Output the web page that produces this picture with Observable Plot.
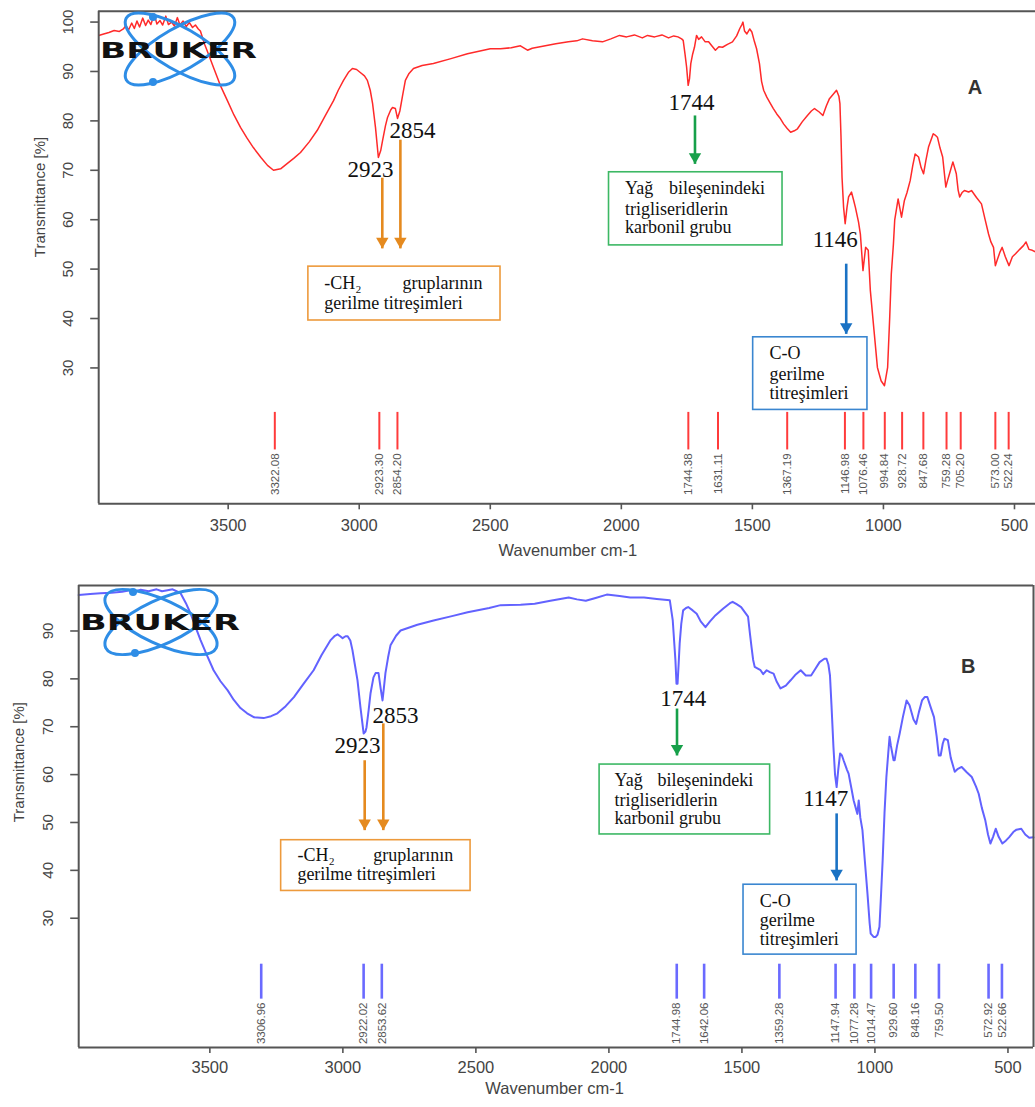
<!DOCTYPE html>
<html><head><meta charset="utf-8">
<script src="https://cdn.jsdelivr.net/npm/d3@7"></script>
<script src="https://cdn.jsdelivr.net/npm/@observablehq/plot@0.6"></script>
<style>
html,body{margin:0;padding:0;background:#fff;overflow:hidden;width:1035px;height:1107px;}
#wrap{position:relative;width:1035px;height:1107px;}
.panel{position:absolute;left:0;}
#logo{position:absolute;left:0;top:0;pointer-events:none;}
</style></head><body><div id="wrap"></div>
<script>
// ---------- axis ticks ----------
const xTicks = [3500, 3000, 2500, 2000, 1500, 1000, 500];
const yTicksA = [30, 40, 50, 60, 70, 80, 90, 100];
const yTicksB = [30, 40, 50, 60, 70, 80, 90];

// ---------- spectrum A (red) ----------
const waveA = [3994,3975,3955,3935,3915,3900,3890,3880,3868,3858,3848,3838,3826,3815,3805,3795,3782,3772,3760,3750,3738,3728,3716,3705,3694,3684,3672,3660,3648,3636,3625,3614,3606,3590,3575,3556,3530,3503,3478,3453,3428,3404,3375,3350,3327,3300,3274,3250,3224,3190,3160,3130,3098,3080,3060,3040,3026,3010,2996,2980,2969,2958,2949,2938,2927,2918,2911,2900,2892,2880,2873,2862,2854,2845,2835,2824,2810,2793,2760,2717,2650,2587,2500,2461,2420,2385,2358,2340,2300,2250,2202,2170,2148,2110,2072,2040,2007,1980,1950,1920,1900,1873,1845,1820,1800,1784,1770,1764,1757,1751,1745,1740,1735,1728,1721,1713,1705,1694,1680,1667,1655,1641,1628,1614,1595,1576,1560,1548,1540,1536,1530,1521,1510,1502,1492,1484,1473,1465,1457,1445,1431,1420,1407,1395,1381,1368,1354,1340,1328,1310,1290,1275,1263,1245,1231,1218,1206,1190,1179,1170,1166,1162,1158,1152,1146,1139,1133,1122,1114,1107,1095,1088,1078,1068,1058,1050,1036,1023,1009,996,984,976,970,962,957,944,931,920,910,898,888,879,866,856,847,838,828,810,800,794,784,774,762,755,748,735,722,715,709,700,691,675,664,645,626,612,599,590,580,573,565,555,547,535,521,508,496,480,465,456,445,432,420,400];
const transA = [97.3,97.6,97.9,98.3,98.1,98.6,99.3,98.4,99.8,98.7,100.2,99.0,100.8,99.3,100.4,99.5,101.6,99.6,100.3,99.4,101.2,99.5,100.0,99.2,100.9,99.4,100.2,99.1,99.9,98.9,99.4,98.6,98.2,95.5,93.5,90.8,87.2,84.1,81.2,78.7,76.5,74.6,72.6,71.0,70.0,70.3,71.4,72.4,73.6,75.8,78.1,81.0,84.1,86.2,88.2,89.9,90.6,90.4,89.8,89.1,88.2,86.2,83.5,78.7,72.6,74.0,76.0,79.0,80.7,82.2,82.7,82.5,80.5,82.0,85.0,88.2,89.6,90.6,91.2,91.6,92.6,93.6,94.6,94.6,94.8,95.2,94.3,94.7,95.1,95.6,96.0,96.2,96.6,96.2,96.0,96.6,97.3,97.0,97.4,96.8,97.3,97.0,97.4,96.8,97.2,97.0,96.6,96.3,93.5,90.9,87.2,88.5,91.6,93.5,94.9,97.3,96.5,97.0,96.0,96.0,95.2,94.3,95.0,94.9,95.5,96.0,97.2,98.7,99.5,100.0,98.2,97.6,98.6,98.0,96.0,94.6,91.6,88.0,86.2,84.8,83.5,82.5,81.4,80.6,79.4,78.5,77.7,78.0,78.4,79.8,81.1,82.0,82.5,81.8,81.1,83.0,84.5,85.5,86.2,85.0,83.5,77.0,68.6,62.5,59.2,62.5,64.6,65.6,64.0,62.5,59.5,57.1,49.7,54.4,53.8,45.7,37.6,30.1,27.4,26.4,30.1,40.3,49.0,55.0,59.9,64.2,60.5,63.9,65.5,67.9,71.0,73.3,72.7,70.5,69.3,72.0,74.7,77.4,77.0,76.7,74.5,72.7,66.6,68.0,69.3,71.7,69.3,66.0,64.6,65.5,65.9,65.6,65.9,64.5,63.2,60.0,57.1,55.5,54.4,50.7,52.0,53.5,54.4,52.5,50.7,52.5,53.1,54.0,54.8,55.5,54.0,53.8,53.5,53.0];

// ---------- spectrum B (blue) ----------
const waveB = [3993,3950,3911,3870,3830,3800,3787,3760,3730,3700,3680,3659,3640,3625,3610,3590,3573,3555,3535,3510,3486,3460,3433,3410,3385,3360,3335,3298,3270,3246,3215,3184,3150,3110,3080,3046,3030,3020,3010,3001,2990,2982,2972,2964,2955,2945,2934,2922,2915,2911,2903,2896,2885,2877,2866,2858,2851,2846,2840,2830,2821,2800,2783,2720,2659,2590,2531,2450,2407,2332,2279,2220,2151,2120,2087,2050,2008,1960,1920,1868,1820,1771,1760,1750,1746,1742,1738,1734,1728,1721,1710,1702,1685,1670,1655,1637,1620,1599,1570,1545,1535,1520,1503,1490,1477,1470,1464,1458,1452,1430,1420,1407,1395,1381,1370,1355,1335,1317,1300,1279,1260,1240,1225,1208,1190,1182,1175,1169,1163,1156,1150,1144,1138,1131,1124,1118,1105,1099,1088,1080,1072,1066,1061,1055,1047,1038,1028,1020,1016,1005,997,990,983,977,971,964,957,950,945,940,930,926,917,907,895,881,870,855,845,835,823,813,803,790,778,768,760,753,745,739,726,715,700,688,674,655,636,620,610,598,585,575,566,556,546,535,521,508,496,480,468,450,435,420,404];
const transB = [97.5,97.7,97.9,98.0,98.2,98.5,98.1,98.6,98.3,98.7,98.3,98.5,98.7,98.3,97.9,95.8,93.7,91.0,88.1,84.8,81.8,79.5,77.6,75.6,73.9,72.8,72.0,71.8,72.2,72.8,74.3,76.2,78.8,81.8,85.0,88.1,89.0,89.3,88.9,88.5,88.9,88.9,88.0,86.0,83.0,79.7,74.1,68.6,69.0,69.9,73.5,77.0,80.3,81.2,81.2,78.0,75.5,78.0,81.2,84.5,87.0,89.0,90.1,91.3,92.2,93.1,93.9,94.8,95.4,95.5,95.7,96.3,97.0,96.6,96.3,96.9,97.6,97.3,97.0,97.0,96.7,96.4,92.2,83.9,79.0,79.0,83.0,87.4,91.5,94.3,94.8,95.0,94.3,93.6,92.0,90.8,92.0,93.3,94.7,95.8,96.1,95.6,95.0,94.0,93.0,89.5,86.7,84.0,82.5,81.8,81.0,81.8,81.4,81.1,79.5,78.0,78.6,79.7,80.8,81.8,80.7,80.7,82.0,83.5,84.2,84.2,83.0,80.7,74.1,65.8,60.0,57.4,61.0,64.4,64.0,63.0,61.0,60.2,57.0,54.6,53.0,51.8,54.6,51.0,48.4,42.0,35.1,29.0,26.8,26.1,26.1,26.6,28.2,35.0,42.1,52.0,59.5,64.5,67.9,66.0,63.0,63.0,66.0,68.6,72.0,75.5,74.5,71.5,70.6,73.0,75.5,76.2,76.2,74.0,72.0,68.0,64.0,64.0,66.5,67.5,67.2,63.5,60.6,61.2,61.6,60.5,59.5,57.5,56.0,53.0,50.4,47.5,45.6,47.0,48.7,47.0,45.6,46.2,46.9,48.0,48.5,48.7,47.5,46.8,46.9];

// ---------- peak picks ----------
const peaksA = [3322.08, 2923.30, 2854.20, 1744.38, 1631.11, 1367.19, 1146.98, 1076.46, 994.84, 928.72, 847.68, 759.28, 705.20, 573.00, 522.24];
const peakLabelsA = ["3322.08","2923.30","2854.20","1744.38","1631.11","1367.19","1146.98","1076.46","994.84","928.72","847.68","759.28","705.20","573.00","522.24"];
const peaksB = [3306.96, 2922.02, 2853.62, 1744.98, 1642.06, 1359.28, 1147.94, 1077.28, 1014.47, 929.60, 848.16, 759.50, 572.92, 522.66];
const peakLabelsB = ["3306.96","2922.02","2853.62","1744.98","1642.06","1359.28","1147.94","1077.28","1014.47","929.60","848.16","759.50","572.92","522.66"];

// ---------- annotations (data units: wavenumber, %T) ----------
const numbersA = [{w:2957,t:70.2,s:"2923"},{w:2797,t:78.1,s:"2854"},{w:1732,t:83.6,s:"1744"},{w:1184,t:56.0,s:"1146"}];
const numbersB = [{w:2802,t:72.4,s:"2853"},{w:2945,t:66.1,s:"2923"},{w:1721,t:75.9,s:"1744"},{w:1185,t:55.0,s:"1147"}];
const arrowsA = [{w:2912,t1:68.5,t2:54.2,c:"#e58a1f"},{w:2843,t1:76.2,t2:54.2,c:"#e58a1f"},{w:1719,t1:81.1,t2:71.3,c:"#17a04a"},{w:1142,t1:51.1,t2:36.9,c:"#1a72c4"}];
const arrowsB = [{w:2918,t1:63.0,t2:48.4,c:"#e58a1f"},{w:2848,t1:70.7,t2:48.4,c:"#e58a1f"},{w:1744,t1:73.8,t2:64.0,c:"#17a04a"},{w:1144,t1:51.9,t2:37.9,c:"#1a72c4"}];
const boxesA = [{w1:3194,w2:2461,t1:50.5,t2:39.6,c:"#ed9a3c"},{w1:2047,w2:1385,t1:69.6,t2:54.8,c:"#3cb864"},{w1:1497,w2:1061,t1:36.2,t2:21.5,c:"#3a86d0"}];
const boxesB = [{w1:3232,w2:2520,t1:46.3,t2:35.7,c:"#ed9a3c"},{w1:2035,w2:1394,t1:62.1,t2:47.5,c:"#3cb864"},{w1:1494,w2:1069,t1:37.0,t2:22.4,c:"#3a86d0"}];
const boxTextA = [
  {w:3133,t:47.1,s:"-CH\u2082",a:"start"},{w:2530,t:47.1,s:"gruplarının",a:"end"},{w:3133,t:43.0,s:"gerilme titreşimleri",a:"start"},
  {w:1986,t:66.4,s:"Yağ",a:"start"},{w:1452,t:66.4,s:"bileşenindeki",a:"end"},{w:1986,t:62.2,s:"trigliseridlerin",a:"start"},{w:1986,t:58.5,s:"karbonil grubu",a:"start"},
  {w:1435,t:33.0,s:"C-O",a:"start"},{w:1435,t:28.8,s:"gerilme",a:"start"},{w:1435,t:24.9,s:"titreşimleri",a:"start"}];
const boxTextB = [
  {w:3171,t:43.1,s:"-CH\u2082",a:"start"},{w:2585,t:43.1,s:"gruplarının",a:"end"},{w:3171,t:39.2,s:"gerilme titreşimleri",a:"start"},
  {w:1979,t:58.8,s:"Yağ",a:"start"},{w:1457,t:58.8,s:"bileşenindeki",a:"end"},{w:1979,t:54.6,s:"trigliseridlerin",a:"start"},{w:1979,t:50.8,s:"karbonil grubu",a:"start"},
  {w:1433,t:33.6,s:"C-O",a:"start"},{w:1433,t:29.6,s:"gerilme",a:"start"},{w:1433,t:25.6,s:"titreşimleri",a:"start"}];
const letterA = [{w:651,t:86.8,s:"A"}];
const letterB = [{w:649,t:82.6,s:"B"}];

const SERIF = "'Liberation Serif','Times New Roman',serif";
const SANS = "'Liberation Sans',Arial,sans-serif";

function makePanel(o) {
  const data = o.wave.map((w, i) => ({w, t: o.trans[i]}));
  const x0 = o.xDomain[0], x1 = o.xDomain[1];
  const y0 = o.yDomain[0], y1 = o.yDomain[1];
  const marks = [
    Plot.rect(o.boxes, {x1: "w1", x2: "w2", y1: "t1", y2: "t2", fill: "white", stroke: "c", strokeWidth: 1.6}),
    Plot.line(data, {x: "w", y: "t", stroke: o.color, strokeWidth: o.lw}),
    Plot.ruleX(o.peaks, {x: d => d, y1: o.peakY[0], y2: o.peakY[1], stroke: o.peakColor, strokeWidth: o.pw}),
    Plot.text(o.peaks, {x: d => d, y: o.peakY[2], text: (d, i) => o.peakLabels[i], rotate: -90, textAnchor: "end", fontSize: 11.5, fill: "#555"}),
    // frame
    Plot.ruleY([y0, y1], {y: d => d, stroke: "#555", strokeWidth: 2}),
    Plot.ruleX(o.rightEdge ? [x0, x1] : [x0], {x: d => d, stroke: "#555", strokeWidth: 2}),
    // axes
    Plot.axisX({ticks: xTicks, tickSize: 6, tickFormat: () => "", label: null, stroke: "#555", strokeWidth: 1.6}),
    Plot.axisY({ticks: o.yTicks, tickSize: 8, tickFormat: () => "", label: null, stroke: "#555", strokeWidth: 1.6}),
    Plot.text(xTicks, {x: d => d, frameAnchor: "bottom", dy: o.xLabDy, text: d => String(d), fontSize: 16.5, fill: "#444"}),
    Plot.text(o.yTicks, {x: x0, y: d => d, dx: -31, text: d => String(d), rotate: -90, fontSize: 15, fill: "#444"}),
    Plot.text(["Wavenumber cm-1"], {x: 2204, frameAnchor: "bottom", dy: o.xTitleDy, text: d => d, fontSize: 16.5, fill: "#444"}),
    Plot.text(["Transmittance [%]"], {x: x0, y: o.yTitleT, dx: o.yTitleDx, text: d => d, rotate: -90, fontSize: 15, fill: "#444"}),
    // annotations
    Plot.link(o.arrows, {x1: "w", x2: "w", y1: "t1", y2: "t2", stroke: "c", strokeWidth: 2.6}),
    Plot.dot(o.arrows, {x: "w", y: "t2", symbol: "triangle", rotate: 180, r: 4.6, fill: "c", stroke: "none", dy: -7}),
    Plot.text(o.numbers, {x: "w", y: "t", text: "s", fontSize: 23, fontFamily: SERIF, fill: "#111"}),
    Plot.text(o.boxText.filter(d => d.a === "start"), {x: "w", y: "t", text: "s", textAnchor: "start", fontSize: 18, fontFamily: SERIF, fill: "#111"}),
    Plot.text(o.boxText.filter(d => d.a === "end"), {x: "w", y: "t", text: "s", textAnchor: "end", fontSize: 18, fontFamily: SERIF, fill: "#111"}),
    Plot.text(o.letter, {x: "w", y: "t", text: "s", fontSize: 20, fontWeight: "bold", fill: "#333"})
  ];
  return Plot.plot({
    width: 1035, height: o.height,
    marginLeft: o.ml, marginRight: o.mr, marginTop: o.mt, marginBottom: o.mb,
    style: {fontFamily: SANS, background: "transparent", overflow: "visible"},
    x: {domain: o.xDomain, range: o.xRange},
    y: {domain: o.yDomain},
    color: {type: "identity"},
    marks
  });
}

const panelA = makePanel({
  wave: waveA, trans: transA, color: "#ff2a2a", lw: 1.5, peakColor: "#ff3b3b", pw: 2,
  peaks: peaksA, peakLabels: peakLabelsA, peakY: [21.0, 13.4, 12.7],
  xDomain: [3994, 400], xRange: [98.2, 1040.2], yDomain: [2.5, 102.2], yTicks: yTicksA,
  height: 560, ml: 98.2, mr: 0, mt: 10.7, mb: 56.7,
  xLabDy: 26.7, xTitleDy: 52, yTitleT: 64.6, yTitleDx: -58.2, rightEdge: false,
  boxes: boxesA, arrows: arrowsA, numbers: numbersA, boxText: boxTextA, letter: letterA
});
const panelB = makePanel({
  wave: waveB, trans: transB, color: "#6262ff", lw: 2, peakColor: "#6a6aff", pw: 2.6,
  peaks: peaksB, peakLabels: peakLabelsB, peakY: [20.4, 13.1, 12.4],
  xDomain: [3993, 404], xRange: [78.2, 1033], yDomain: [3.0, 99.5], yTicks: yTicksB,
  height: 547, ml: 78.2, mr: 2, mt: 25, mb: 60,
  xLabDy: 25, xTitleDy: 46.7, yTitleT: 62.6, yTitleDx: -60, rightEdge: true,
  boxes: boxesB, arrows: arrowsB, numbers: numbersB, boxText: boxTextB, letter: letterB
});

const wrap = document.getElementById("wrap");
panelA.classList.add("panel"); panelA.style.top = "0px";
panelB.classList.add("panel"); panelB.style.top = "560px";
wrap.appendChild(panelA);
wrap.appendChild(panelB);

// ---------- BRUKER logo decoration ----------
function logoSvg(cx, cy, a, b, ang, dots, tx, ty, tl, fs) {
  const c = "#2e8de6";
  return `<g>
    <ellipse cx="${cx}" cy="${cy}" rx="${a}" ry="${b}" transform="rotate(${ang} ${cx} ${cy})" fill="none" stroke="${c}" stroke-width="3"/>
    <ellipse cx="${cx}" cy="${cy}" rx="${a}" ry="${b}" transform="rotate(${-ang} ${cx} ${cy})" fill="none" stroke="${c}" stroke-width="3"/>
    ${dots.map(d => `<circle cx="${d[0]}" cy="${d[1]}" r="4" fill="${c}"/>`).join("")}
    <text x="${tx}" y="${ty}" textLength="${tl}" lengthAdjust="spacingAndGlyphs" font-family="'DejaVu Sans',sans-serif" font-weight="900" font-size="${fs}" fill="#111">BRUKER</text>
  </g>`;
}
const ns = "http://www.w3.org/2000/svg";
const lg = document.createElementNS(ns, "svg");
lg.setAttribute("id", "logo");
lg.setAttribute("width", 1035);
lg.setAttribute("height", 1107);
lg.innerHTML = logoSvg(180, 49, 62, 21, 30, [[153, 17], [153, 82]], 100, 58, 157, 22)
             + logoSvg(161, 622, 61, 22, 25, [[133, 592], [135, 653]], 80, 630, 160, 21);
wrap.appendChild(lg);
</script></body></html>
